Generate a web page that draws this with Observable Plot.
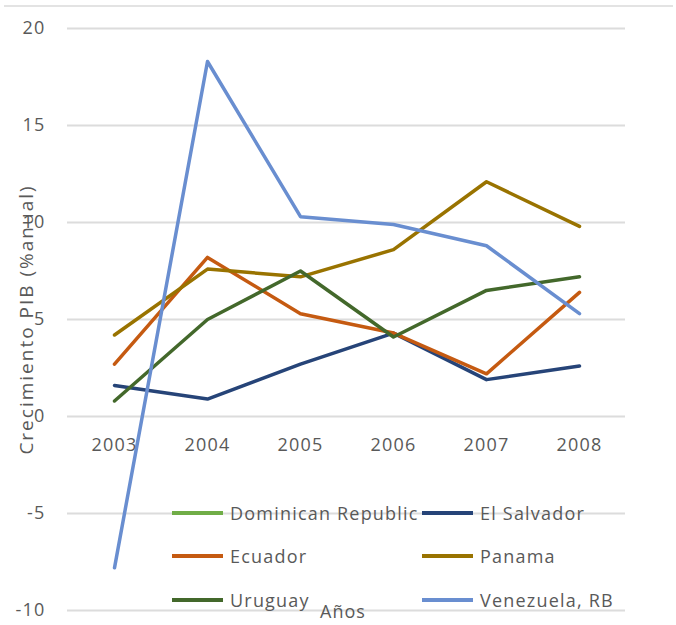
<!DOCTYPE html>
<html>
<head>
<meta charset="utf-8">
<script src="https://cdn.jsdelivr.net/npm/d3@7"></script>
<script src="https://cdn.jsdelivr.net/npm/@observablehq/plot@0.6"></script>
<style>
  body { margin: 0; background: #fff; font-family: "Open Sans", sans-serif; }
  #wrap { position: relative; width: 676px; height: 625px; overflow: hidden; }
  #topline { position: absolute; left: 4px; right: 3px; top: 5px; height: 0; border-top: 2px solid #e3e3e3; }
  #legend { position: absolute; left: 0; top: 0; width: 676px; height: 625px; pointer-events: none; }
  .item { position: absolute; display: flex; align-items: center; font-size: 18px; letter-spacing: 1.2px; color: #595959; white-space: nowrap; line-height: 24px; }
  .sw { width: 51px; height: 4px; margin-right: 7px; }
  #xtitle { position: absolute; left: 320px; top: 600px; font-size: 18px; letter-spacing: 1px; color: #595959; line-height: 22px; }
</style>
</head>
<body>
<div id="wrap">
  <div id="chart"></div>
  <div id="topline"></div>
  <div id="legend"></div>
  <div id="xtitle">Años</div>
</div>
<script>
const years = ["2003", "2004", "2005", "2006", "2007", "2008"];
const seriesNames = ["Dominican Republic", "El Salvador", "Ecuador", "Panama", "Uruguay", "Venezuela, RB"];
const seriesColors = ["#70AD47", "#264478", "#C55A11", "#997300", "#43682B", "#698ED0"];
const dominicanRepublic = [];
const elSalvador = [1.6, 0.9, 2.7, 4.3, 1.9, 2.6];
const ecuador = [2.7, 8.2, 5.3, 4.3, 2.2, 6.4];
const panama = [4.2, 7.6, 7.2, 8.6, 12.1, 9.8];
const uruguay = [0.8, 5.0, 7.5, 4.1, 6.5, 7.2];
const venezuela = [-7.8, 18.3, 10.3, 9.9, 8.8, 5.3];
const yTicks = [-10, -5, 0, 5, 10, 15, 20];

const seriesValues = [dominicanRepublic, elSalvador, ecuador, panama, uruguay, venezuela];
const rows = [];
seriesNames.forEach((name, i) => {
  seriesValues[i].forEach((v, j) => rows.push({series: name, year: years[j], value: v}));
});

const chart = Plot.plot({
  width: 676,
  height: 625,
  marginLeft: 67,
  marginRight: 51,
  marginTop: 28,
  marginBottom: 15,
  style: {fontFamily: "'Open Sans', sans-serif", background: "transparent", letterSpacing: "1.2px"},
  x: {type: "point", domain: years, padding: 0.5, axis: null},
  y: {domain: [-10, 20], ticks: yTicks},
  color: {domain: seriesNames, range: seriesColors},
  marks: [
    Plot.gridY(yTicks, {stroke: "#dcdcdc", strokeOpacity: 1, strokeWidth: 2}),
    Plot.axisY(yTicks, {tickSize: 0, tickPadding: 22, fontSize: 18, fill: "#595959",
      tickFormat: d => String(d),
      label: "Crecimiento PIB (%anual)", labelAnchor: "center", labelArrow: "none", labelOffset: 48}),
    Plot.text(years, {x: d => d, y: () => 0, dy: 29, fontSize: 18, fill: "#595959"}),
    Plot.line(rows, {x: "year", y: "value", z: "series", stroke: "series", strokeWidth: 3.5,
      strokeLinejoin: "round", strokeLinecap: "round"})
  ]
});
document.getElementById("chart").append(chart);
chart.querySelectorAll("g[aria-label='y-axis label'] text").forEach(t => {
  t.setAttribute("font-size", "19"); t.setAttribute("fill", "#595959");
  t.style.letterSpacing = "2px";
});

const legend = document.getElementById("legend");
const colLeft = [172, 422];
const rowCenter = [513, 556, 600];
seriesNames.forEach((name, i) => {
  const el = document.createElement("div");
  el.className = "item";
  el.style.left = colLeft[i % 2] + "px";
  el.style.top = (rowCenter[Math.floor(i / 2)] - 12) + "px";
  const sw = document.createElement("span");
  sw.className = "sw";
  sw.style.background = seriesColors[i];
  el.append(sw, document.createTextNode(name));
  legend.append(el);
});
</script>
</body>
</html>
